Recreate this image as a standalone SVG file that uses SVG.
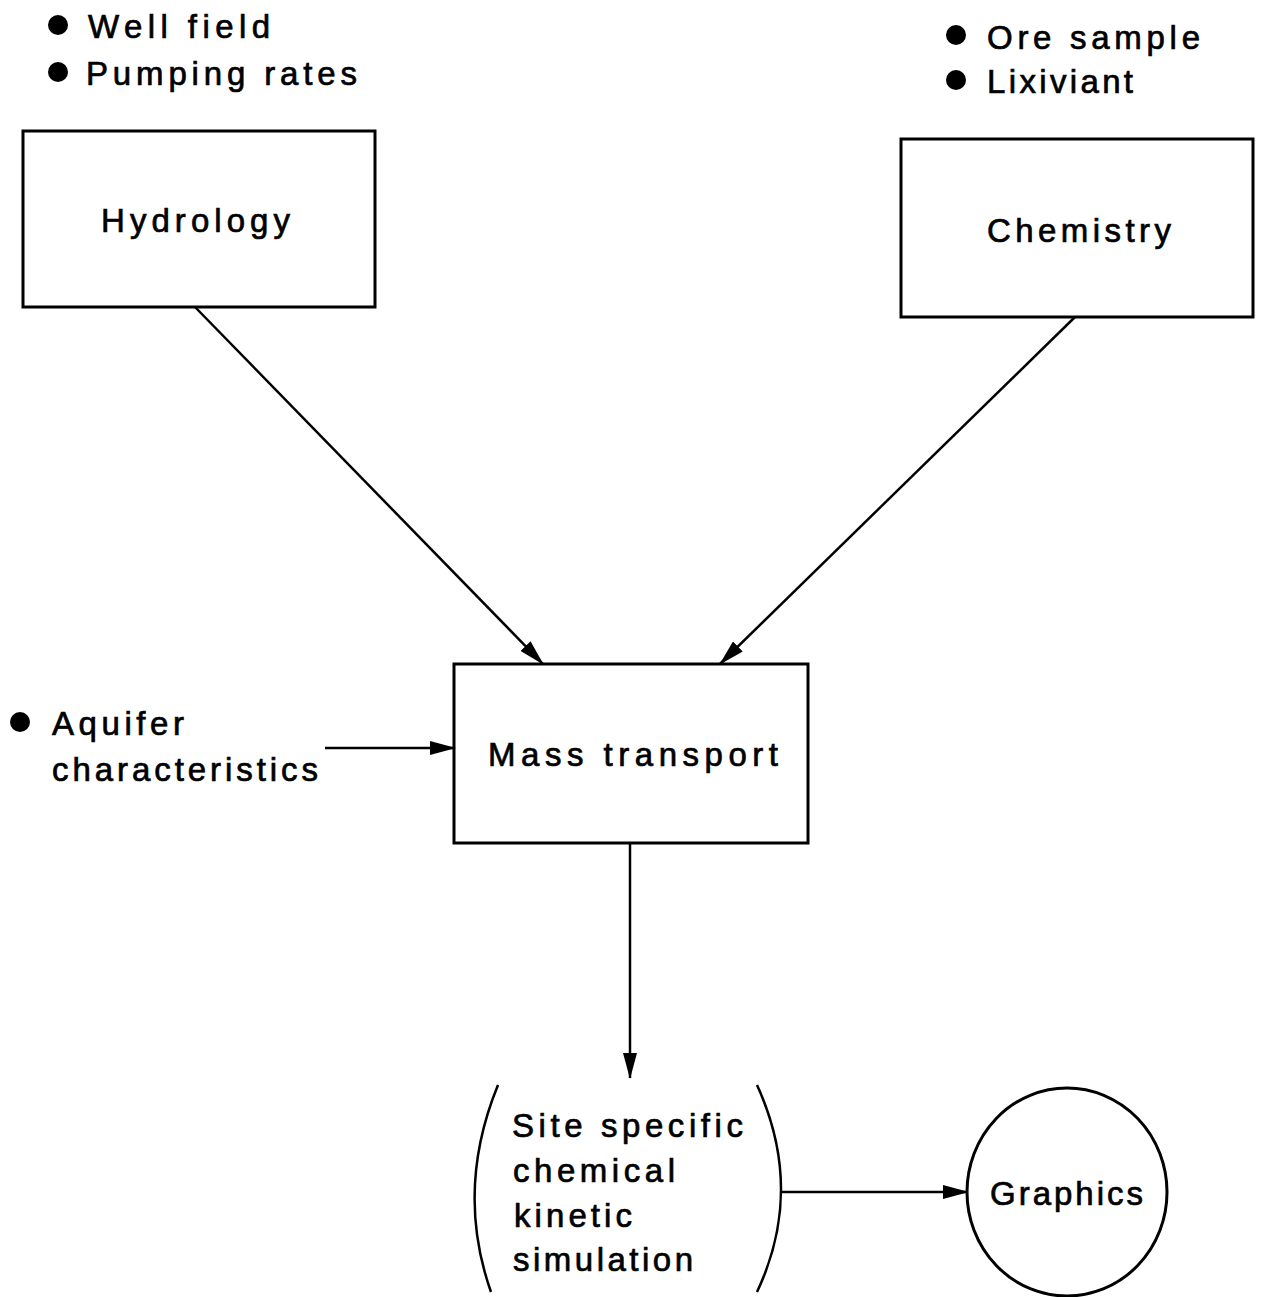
<svg xmlns="http://www.w3.org/2000/svg" width="1264" height="1297" viewBox="0 0 1264 1297">
<style>
text{font-family:"Liberation Sans",Arial,sans-serif;font-size:33px;fill:#000;stroke:#000;stroke-width:0.7}
.box{fill:none;stroke:#000;stroke-width:3}
.con{stroke:#000;stroke-width:2.5;fill:none}
.dot{fill:#000}
</style>
<defs>
<marker id="ah" markerWidth="26" markerHeight="14" refX="25" refY="7" orient="auto" markerUnits="userSpaceOnUse">
<path d="M0,0 L26,7 L0,14 Z" fill="#000"/>
</marker>
</defs>
<rect width="1264" height="1297" fill="#fff"/>
<g id="hydro-inputs">
<circle class="dot" cx="58" cy="25" r="10"/>
<text x="88" y="38" textLength="182" lengthAdjust="spacing">Well field</text>
<circle class="dot" cx="58" cy="72" r="10"/>
<text x="86" y="85" textLength="271" lengthAdjust="spacing">Pumping rates</text>
</g>
<g id="chem-inputs">
<circle class="dot" cx="956" cy="35" r="10"/>
<text x="987" y="49" textLength="213" lengthAdjust="spacing">Ore sample</text>
<circle class="dot" cx="956" cy="80" r="10"/>
<text x="987" y="93" textLength="146" lengthAdjust="spacing">Lixiviant</text>
</g>
<g id="hydrology">
<rect class="box" x="23" y="131" width="352" height="176"/>
<text x="101" y="232" textLength="189" lengthAdjust="spacing">Hydrology</text>
</g>
<g id="chemistry">
<rect class="box" x="901" y="139" width="352" height="178"/>
<text x="987" y="242" textLength="184" lengthAdjust="spacing">Chemistry</text>
</g>
<g id="aquifer">
<circle class="dot" cx="20" cy="722" r="10"/>
<text x="52" y="735" textLength="132" lengthAdjust="spacing">Aquifer</text>
<text x="52" y="781" textLength="266" lengthAdjust="spacing">characteristics</text>
</g>
<g id="mass-transport">
<rect class="box" x="454" y="664" width="354" height="179"/>
<text x="488" y="766" textLength="290" lengthAdjust="spacing">Mass transport</text>
</g>
<g id="simulation">
<path class="con" d="M498,1085 Q455,1190 491,1292"/>
<path class="con" d="M757,1085 Q805,1190 757,1292"/>
<text x="512" y="1137" textLength="231" lengthAdjust="spacing">Site specific</text>
<text x="513" y="1182" textLength="162" lengthAdjust="spacing">chemical</text>
<text x="514" y="1227" textLength="118" lengthAdjust="spacing">kinetic</text>
<text x="513" y="1271" textLength="180" lengthAdjust="spacing">simulation</text>
</g>
<g id="graphics">
<ellipse class="box" cx="1067" cy="1192" rx="100" ry="104" stroke-width="2.5"/>
<text x="990" y="1205" textLength="153" lengthAdjust="spacing">Graphics</text>
</g>
<g id="connectors">
<line class="con" x1="195" y1="307" x2="543" y2="664" marker-end="url(#ah)"/>
<line class="con" x1="1075" y1="317" x2="720" y2="664" marker-end="url(#ah)"/>
<line class="con" x1="325" y1="748" x2="455" y2="748" marker-end="url(#ah)"/>
<line class="con" x1="630" y1="843" x2="630" y2="1078" marker-end="url(#ah)"/>
<line class="con" x1="782" y1="1192" x2="968" y2="1192" marker-end="url(#ah)"/>
</g>
</svg>
